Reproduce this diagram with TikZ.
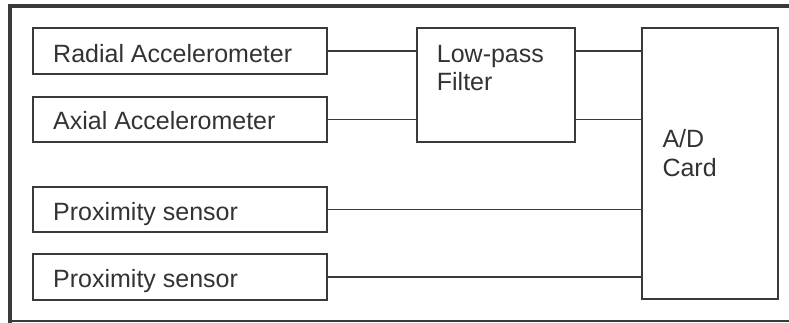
\documentclass[tikz,border=0pt]{standalone}
\usepackage{fontspec}
\setmainfont{Liberation Sans}
\definecolor{ink}{HTML}{3A3A3C}
\definecolor{txt}{HTML}{333333}
\tikzset{
  blk/.style={draw=ink, line width=1.8pt, inner sep=0pt, outer sep=0pt, fill=white},
  lbl/.style={anchor=base west, inner sep=0pt, text=txt, font=\fontsize{25}{28}\selectfont},
  wire/.style={draw=ink, line width=1.6pt},
}
\begin{document}
\begin{tikzpicture}[x=1pt,y=-1pt]
\useasboundingbox (0,0) rectangle (789,322);
% outer frame
\draw[ink, line width=4pt] (10,340) -- (10,6) -- (800,6);
\draw[ink, line width=2pt] (10,321) -- (800,321);
% boxes
\node[blk, minimum width=294pt, minimum height=45.7pt] (rad) at (180,51.2) {};
\node[blk, minimum width=294pt, minimum height=45.6pt] (axi) at (180,119.5) {};
\node[blk, minimum width=294pt, minimum height=45.3pt] (pr1) at (180,209.3) {};
\node[blk, minimum width=294pt, minimum height=45.7pt] (pr2) at (180,277.2) {};
\node[blk, minimum width=158.6pt, minimum height=113.4pt] (lpf) at (496,85) {};
\node[blk, minimum width=136pt, minimum height=271pt] (ad) at (710.3,163.8) {};
% labels
\node[lbl] (tr) at (53,62.3) {Radial Accelerometer};
\node[lbl] (ta) at (53,129.3) {Axial Accelerometer};
\node[lbl] (tp1) at (53,220) {Proximity sensor};
\node[lbl] (tp2) at (53,287.5) {Proximity sensor};
\node[lbl] (tl1) at (436.7,62.7) {Low-pass};
\node[lbl] (tl2) at (436.7,90.7) {Filter};
\node[lbl] (td1) at (662.3,147.7) {A/D};
\node[lbl] (td2) at (662.3,176.7) {Card};
% connectors
\path[wire] (rad.east) -- (rad.east -| lpf.west);
\path[wire] (axi.east) -- (axi.east -| lpf.west);
\path[wire] (lpf.east |- rad.east) -- (ad.west |- rad.east);
\path[wire] (lpf.east |- axi.east) -- (ad.west |- axi.east);
\path[wire] (pr1.east) -- (ad.west |- pr1.east);
\path[wire] (pr2.east) -- (ad.west |- pr2.east);
\end{tikzpicture}
\end{document}
